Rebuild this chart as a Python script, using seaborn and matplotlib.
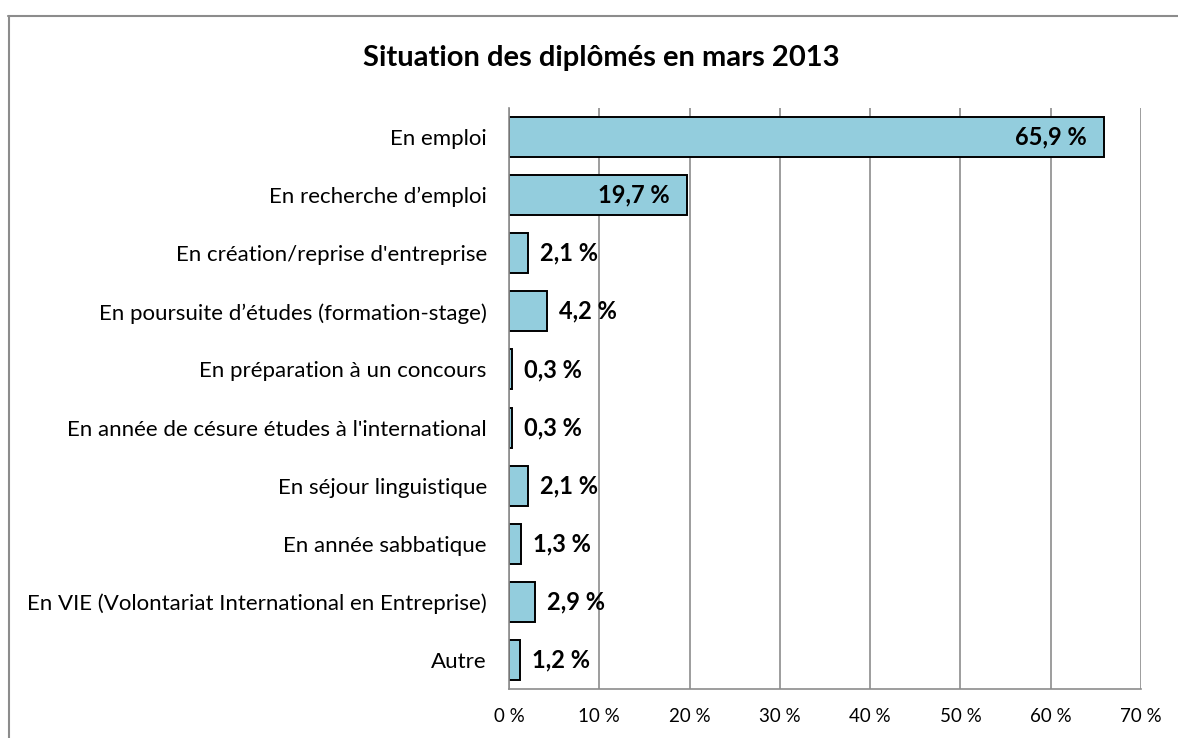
import pandas as pd
import seaborn as sns
import matplotlib.pyplot as plt
from matplotlib.lines import Line2D

categories = [
    "En emploi",
    "En recherche d\u2019emploi",
    "En cr\u00e9ation/reprise d'entreprise",
    "En poursuite d\u2019\u00e9tudes (formation-stage)",
    "En pr\u00e9paration \u00e0 un concours",
    "En ann\u00e9e de c\u00e9sure \u00e9tudes \u00e0 l'international",
    "En s\u00e9jour linguistique",
    "En ann\u00e9e sabbatique",
    "En VIE (Volontariat International en Entreprise)",
    "Autre",
]
values = [65.9, 19.7, 2.1, 4.2, 0.3, 0.3, 2.1, 1.3, 2.9, 1.2]
xticks = [0, 10, 20, 30, 40, 50, 60, 70]

df = pd.DataFrame({"Situation": categories, "Pourcentage": values})

sns.set_style("white")
plt.rcParams["font.family"] = ["Lato", "DejaVu Sans"]
plt.rcParams["text.color"] = "black"
plt.rcParams["xtick.color"] = "black"
plt.rcParams["ytick.color"] = "black"

fig = plt.figure(figsize=(11.78, 7.38), dpi=100)
ax = fig.add_axes([509 / 1178, 1 - 689 / 738, (1141 - 509) / 1178, (689 - 108) / 738])

sns.barplot(data=df, x="Pourcentage", y="Situation", orient="h", color="#93CDDD",
            edgecolor="black", linewidth=1.4, width=0.69, saturation=1, ax=ax)

ax.set_xlim(0, 70)
ax.set_ylim(len(categories) - 0.5, -0.5)
ax.set_xticks(xticks)
ax.set_xticklabels([f"{t} %" for t in xticks], fontsize=13.5)
ax.set_xlabel("")
ax.set_ylabel("")
ax.tick_params(axis="y", labelsize=16, length=0, pad=16, labelcolor="black")
ax.tick_params(axis="x", length=0, pad=14, labelcolor="black")

# gridlines and axes lines
ax.set_axisbelow(True)
ax.grid(axis="x", color="#8c8c8c", linewidth=1.2)
for s in ["top", "right"]:
    ax.spines[s].set_visible(False)
for s in ["left", "bottom"]:
    ax.spines[s].set_color("#8c8c8c")
    ax.spines[s].set_linewidth(1.2)

# category boundary ticks on y axis
ax.set_yticks([i - 0.5 for i in range(len(categories) + 1)], minor=True)
ax.tick_params(axis="y", which="minor", length=6, color="#8c8c8c", width=1.2)
ax.set_xticks(xticks, minor=True)
ax.tick_params(axis="x", which="minor", length=6, color="#8c8c8c", width=1.2)

# value labels
for i, v in enumerate(values):
    label = f"{v:.1f} %".replace(".", ",")
    if v > 10:
        ax.annotate(label, (v, i), xytext=(-17, 0), textcoords="offset pixels",
                    ha="right", va="center", fontsize=17, fontweight="bold", color="black")
    else:
        ax.annotate(label, (v, i), xytext=(12, 0), textcoords="offset pixels",
                    ha="left", va="center", fontsize=17, fontweight="bold", color="black")

fig.text(601 / 1178, 1 - 58 / 738, "Situation des dipl\u00f4m\u00e9s en mars 2013",
         ha="center", va="center", fontsize=21, fontweight="bold", color="black")

# outer chart border (top and left visible)
fig.add_artist(Line2D([8 / 1178, 1], [1 - 16 / 738, 1 - 16 / 738], transform=fig.transFigure,
                      color="#8c8c8c", linewidth=1.5))
fig.add_artist(Line2D([9 / 1178, 9 / 1178], [0, 1 - 16 / 738], transform=fig.transFigure,
                      color="#8c8c8c", linewidth=1.5))

fig.savefig("out.png", dpi=100)
